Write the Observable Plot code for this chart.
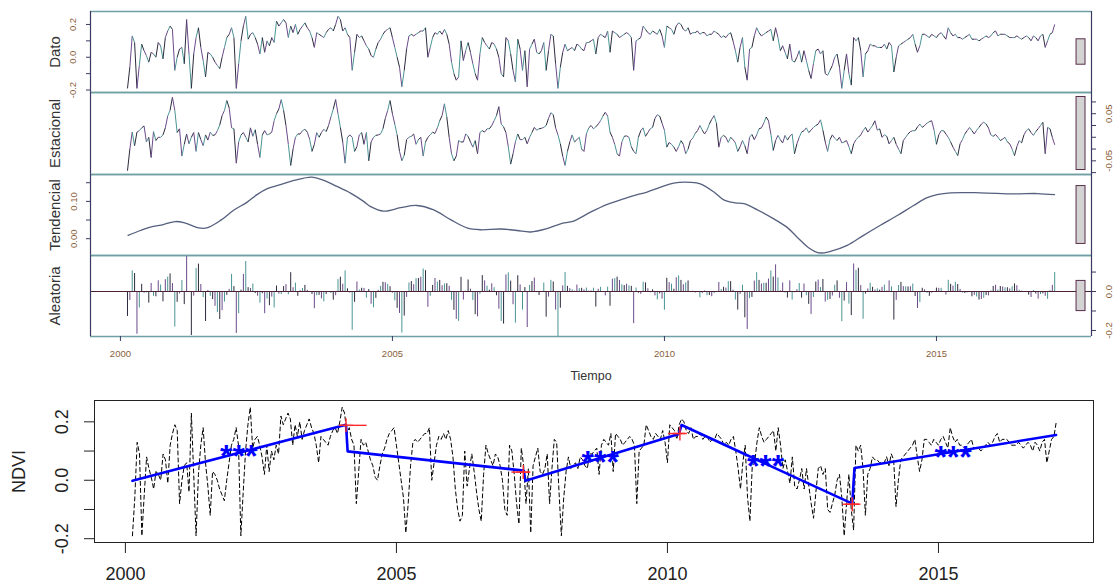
<!DOCTYPE html>
<html><head><meta charset="utf-8">
<script src="https://cdn.jsdelivr.net/npm/d3@7"></script>
<script src="https://cdn.jsdelivr.net/npm/@observablehq/plot@0.6"></script>
<style>
html,body{margin:0;padding:0;background:#fff;}
#chart{position:relative;width:1113px;height:584px;overflow:hidden;font-family:"Liberation Sans",Arial,sans-serif;}
#chart > div{position:absolute;left:0;}
#chart svg{overflow:visible;}
</style></head><body><div id="chart"></div>
<script>
// ---- time base (16-day NDVI composites, 23 per year) ----
const startTime = 2000.13;
const step = 1 / 23;

// ---- NDVI observations (Dato / dashed series) ----
const ndvi = [
  // 2000
  -0.19,-0.06,0.13,0.09,-0.19,-0.05,0.08,0.04,0.01,-0.03,0.03,0.02,0.0,0.09,0.07,-0.01,0.12,0.16,0.19,0.17,
  // 2001
  -0.08,0.0,0.05,0.06,-0.04,0.23,0.02,-0.19,0.02,0.12,0.18,0.06,-0.02,-0.12,0.03,0.02,0.0,-0.03,-0.05,-0.07,0.0,0.06,0.12,
  // 2002
  0.14,0.18,0.12,-0.19,-0.04,0.10,0.19,0.25,0.11,0.14,0.15,0.12,0.08,0.02,0.12,0.03,0.10,0.07,0.12,0.09,0.22,0.19,0.21,
  // 2003
  0.23,0.21,0.12,0.19,0.15,0.20,0.14,0.17,0.19,0.21,0.18,0.16,0.12,0.06,0.15,0.14,0.13,0.12,0.15,0.17,0.18,0.16,0.20,
  // 2004
  0.25,0.23,0.16,0.18,0.14,0.12,-0.08,0.03,0.14,0.12,0.13,0.10,0.07,0.05,0.01,0.0,0.05,0.09,0.11,0.14,0.16,0.17,0.18,
  // 2005
  0.12,0.06,0.0,-0.06,-0.18,-0.08,0.05,0.13,0.14,0.13,0.14,0.15,0.16,0.16,0.18,0.0,0.06,0.12,0.15,0.14,0.16,0.14,0.17,
  // 2006
  0.14,0.08,-0.03,-0.10,-0.14,-0.12,0.10,-0.02,0.04,0.09,0.03,-0.04,-0.10,-0.14,0.02,0.12,0.09,0.07,0.05,0.09,0.08,0.05,0.0,
  // 2007
  -0.10,-0.12,0.12,0.10,0.02,-0.08,-0.15,0.11,0.05,-0.08,0.04,-0.18,0.05,0.08,0.11,0.03,0.02,0.04,0.09,-0.08,0.04,0.14,0.13,
  // 2008
  -0.04,-0.19,-0.06,0.03,0.08,0.04,0.05,0.06,0.04,0.08,0.07,0.05,0.04,0.09,0.09,0.10,0.11,0.02,0.12,0.14,0.13,0.12,0.16,
  // 2009
  0.03,0.16,0.15,0.14,0.12,0.13,0.14,0.15,0.14,0.12,-0.08,0.10,0.11,0.12,0.19,0.17,0.15,0.14,0.16,0.15,0.14,0.17,0.13,
  // 2010
  0.06,0.19,0.18,0.17,0.14,0.19,0.21,0.20,0.17,0.16,0.18,0.14,0.15,0.15,0.16,0.14,0.15,0.15,0.13,0.14,0.14,0.16,0.15,
  // 2011
  0.14,0.12,0.13,0.12,0.14,0.15,0.10,0.04,-0.03,0.06,0.12,-0.06,-0.14,0.05,0.06,0.13,0.18,0.15,0.13,0.14,0.15,0.16,0.17,
  // 2012
  0.10,0.18,0.12,0.04,0.07,0.03,-0.01,0.08,-0.02,-0.03,0.0,0.04,-0.03,0.04,-0.02,-0.08,-0.13,-0.04,0.04,0.05,0.02,0.04,-0.10,
  // 2013
  -0.11,-0.08,-0.05,0.0,0.02,-0.06,-0.19,-0.08,0.02,-0.10,-0.17,0.12,0.10,0.12,0.04,-0.12,0.02,0.04,0.08,0.07,0.07,0.06,0.06,
  // 2014
  0.06,0.08,0.05,0.09,0.07,-0.09,0.0,0.07,0.08,0.09,0.10,0.11,0.12,0.14,0.08,0.03,0.07,0.14,0.14,0.13,0.12,0.14,0.13,
  // 2015
  0.12,0.14,0.15,0.13,0.11,0.18,0.15,0.13,0.14,0.12,0.12,0.11,0.12,0.13,0.14,0.11,0.11,0.11,0.10,0.11,0.12,0.13,0.12,
  // 2016
  0.13,0.15,0.16,0.13,0.14,0.14,0.14,0.13,0.12,0.12,0.12,0.13,0.12,0.11,0.12,0.13,0.12,0.10,0.13,0.12,0.10,0.13,0.14,
  // 2017
  0.06,0.10,0.14,0.15,0.20
];

// ---- Estacional (seasonal component) ----
const seasonal = [
  // 2000
  -0.071,-0.025,0.011,-0.018,0.011,0.014,0.020,0.024,-0.010,0.0,-0.043,0.012,-0.007,0.0,0.0,0.005,0.020,0.045,0.057,0.085,
  // 2001
  0.057,0.010,0.018,-0.040,-0.015,0.007,-0.014,0.0,0.010,-0.030,0.010,-0.005,-0.018,0.005,-0.006,0.011,0.004,0.005,0.014,0.026,0.046,0.057,0.078,
  // 2002
  0.062,0.020,0.018,-0.055,-0.010,0.005,0.010,0.0,-0.010,0.020,0.002,0.016,-0.015,-0.043,0.005,0.014,0.005,0.007,0.011,0.035,0.050,0.060,0.080,
  // 2003
  0.057,0.025,-0.015,-0.060,-0.025,0.0,0.007,0.007,0.014,0.017,0.011,-0.004,-0.030,-0.015,0.010,0.0,0.010,0.017,0.012,0.025,0.043,0.060,0.080,
  // 2004
  0.050,0.021,-0.010,-0.055,0.0,0.005,0.0,-0.030,-0.020,0.005,0.010,-0.015,0.010,-0.050,-0.010,0.0,0.004,0.005,0.007,0.018,0.040,0.057,0.078,
  // 2005
  0.050,0.028,0.005,-0.030,-0.050,-0.038,-0.005,0.0,0.002,0.007,-0.015,-0.005,0.0,-0.040,-0.010,0.0,0.005,0.011,0.008,0.020,0.035,0.046,0.071,
  // 2006
  0.043,0.0,-0.035,-0.050,-0.040,-0.007,-0.010,-0.010,0.007,0.002,-0.010,-0.021,-0.007,-0.035,0.010,0.014,0.011,0.018,0.018,0.025,0.035,0.046,0.065,
  // 2007
  0.028,0.022,0.010,-0.020,-0.057,-0.035,-0.010,0.007,-0.005,-0.005,0.0,-0.014,0.0,0.010,0.021,0.015,0.018,0.019,0.021,0.025,0.040,0.052,0.048,
  // 2008
  0.020,0.005,-0.014,-0.040,-0.060,-0.030,-0.010,0.005,-0.010,-0.005,0.0,-0.025,-0.030,0.007,0.020,0.025,0.018,0.022,0.028,0.035,0.045,0.053,0.045,
  // 2009
  0.011,0.0,-0.015,-0.035,-0.040,-0.010,0.002,0.003,0.0,-0.020,-0.030,-0.035,0.0,0.014,0.020,0.002,0.010,0.018,0.021,0.040,0.048,0.045,0.030,
  // 2010
  0.015,-0.021,-0.011,-0.015,-0.021,-0.030,-0.020,-0.007,-0.015,-0.035,-0.025,-0.007,-0.002,0.008,0.014,0.025,0.015,0.007,0.015,0.028,0.038,0.046,0.030,
  // 2011
  -0.021,0.0,0.004,0.0,-0.011,0.0,-0.005,-0.012,-0.030,-0.020,-0.007,-0.018,-0.035,0.0,0.006,-0.005,0.005,0.018,0.020,0.030,0.043,0.035,0.007,
  // 2012
  -0.028,-0.007,0.004,-0.005,-0.012,0.004,-0.006,0.002,0.007,-0.035,-0.014,0.0,0.011,0.014,0.020,0.010,0.015,0.021,0.025,0.028,0.037,0.015,-0.010,
  // 2013
  -0.030,-0.005,0.005,-0.002,-0.007,0.0,-0.012,-0.010,-0.007,-0.020,-0.035,-0.014,-0.005,0.0,0.005,0.014,0.021,0.011,0.018,0.025,0.035,0.015,0.018,
  // 2014
  0.0,0.005,0.002,-0.014,-0.007,0.0,-0.015,-0.025,-0.035,-0.007,0.0,0.007,0.012,0.014,0.014,0.022,0.028,0.021,0.025,0.030,0.033,0.035,0.015,
  // 2015
  -0.015,0.005,0.014,0.014,0.007,0.0,-0.010,-0.021,-0.030,-0.039,-0.014,-0.005,0.007,0.014,0.021,0.014,0.007,0.015,0.021,0.028,0.032,0.028,0.020,
  // 2016
  0.005,0.002,0.006,0.0,-0.007,-0.004,0.0,-0.010,-0.014,-0.025,-0.039,-0.020,-0.007,-0.012,0.005,0.014,0.018,0.010,0.004,0.012,0.018,0.025,0.032,
  // 2017
  -0.035,0.021,0.018,0.0,-0.016
];

// ---- Tendencial (trend component, read at knots) ----
const trendTime = [2000.14,2000.37,2000.55,2000.79,2001.01,2001.19,2001.44,2001.59,2001.84,2002.08,2002.33,2002.51,2002.70,2002.94,2003.19,2003.52,2003.74,2003.98,2004.23,2004.47,2004.60,2004.84,2005.15,2005.45,2005.76,2006.07,2006.37,2006.62,2006.99,2007.29,2007.54,2007.84,2008.09,2008.33,2008.64,2008.95,2009.25,2009.50,2009.68,2009.93,2010.17,2010.48,2010.66,2010.91,2011.09,2011.30,2011.46,2011.70,2012.01,2012.25,2012.44,2012.65,2012.84,2013.05,2013.36,2013.66,2013.97,2014.28,2014.58,2014.83,2015.01,2015.26,2015.81,2016.42,2016.85,2017.17];
const trendValue = [0.009,0.022,0.031,0.038,0.046,0.042,0.029,0.029,0.049,0.076,0.098,0.118,0.134,0.145,0.156,0.165,0.156,0.140,0.122,0.100,0.086,0.074,0.083,0.089,0.077,0.051,0.029,0.024,0.026,0.022,0.018,0.027,0.040,0.047,0.071,0.092,0.107,0.118,0.125,0.138,0.149,0.151,0.147,0.125,0.104,0.096,0.094,0.078,0.053,0.031,0.004,-0.024,-0.038,-0.034,-0.018,0.009,0.036,0.062,0.089,0.110,0.118,0.123,0.123,0.120,0.121,0.118];

// ---- BFAST piecewise trend (bottom plot) ----
const bfTime  = [2000.13, 2004.07, 2004.10, 2007.35, 2007.38, 2010.21, 2010.26, 2013.41, 2013.45, 2017.17];
const bfValue = [-0.002, 0.190, 0.099, 0.033, -0.002, 0.158, 0.189, -0.080, 0.042, 0.155];
// breakpoints and their confidence intervals
const bpTime  = [2004.07, 2007.34, 2010.23, 2013.41];
const bpValue = [0.188, 0.028, 0.160, -0.082];
const bpLow   = [2003.97, 2007.13, 2010.02, 2013.24];
const bpHigh  = [2004.46, 2007.47, 2010.33, 2013.57];
// significance markers
const starTime  = [2002.09, 2008.76, 2011.81, 2015.27];
const starValue = [0.108, 0.089, 0.074, 0.103];
const starText  = ["***", "***", "***", "***"];

// ---- axes ----
const yearTicks = [2000, 2005, 2010, 2015];
const panelNames = ["Dato", "Estacional", "Tendencial", "Aleatoria"];
const datoTicks = [-0.2, -0.1, 0, 0.1, 0.2], datoLabels = [-0.2, 0, 0.2];
const estTicks = [-0.075, -0.05, -0.025, 0, 0.025, 0.05, 0.075], estLabels = [-0.05, 0.05];
const tenTicks = [0, 0.05, 0.1, 0.15], tenLabels = [0, 0.1];
const aleTicks = [-0.2, -0.1, 0, 0.1], aleLabels = [-0.2, 0];
const ndviTicks = [-0.2, -0.1, 0, 0.1, 0.2], ndviLabels = [-0.2, 0, 0.2];
const rangeBarSize = 0.155;

// ---- derived rows ----
function trendAt(t) {
  if (t <= trendTime[0]) return trendValue[0];
  for (let j = 0; j < trendTime.length - 1; j++) {
    if (t <= trendTime[j + 1]) {
      const f = (t - trendTime[j]) / (trendTime[j + 1] - trendTime[j]);
      return trendValue[j] + f * (trendValue[j + 1] - trendValue[j]);
    }
  }
  return trendValue[trendValue.length - 1];
}
const lineColors = ["#2b2b3d", "#6b4a8a", "#4a9494"];
const rows = ndvi.map((v, i) => {
  const t = startTime + i * step;
  return {t, v, s: seasonal[i], r: v - seasonal[i] - trendAt(t), c: lineColors[i % 3]};
});
const segs = d3.pairs(rows).map(([a, b]) => ({a, b}));
const trendRows = trendTime.map((t, i) => ({t, v: trendValue[i]}));
const bfRows = bfTime.map((t, i) => ({t, v: bfValue[i]}));
const bpRows = bpTime.map((t, i) => ({t, v: bpValue[i], lo: bpLow[i], hi: bpHigh[i]}));
const starRows = starTime.map((t, i) => ({t, v: starValue[i], text: starText[i]}));

const font = "Liberation Sans, Arial, Helvetica, sans-serif";
const sepColor = "#6f9fa2", borderColor = "#3a3a62", tickLabColor = "#8a6038";
const xDomainTop = [1999.45, 2017.85];
const xDomainBottom = [1999.43, 2017.86];
const chart = document.getElementById("chart");

function place(svgTop, node) {
  const d = document.createElement("div");
  d.style.top = svgTop + "px";
  d.appendChild(node);
  chart.appendChild(d);
}

function topPanel({top, bottom, svgTop, svgBottom, yDomain, name, side, ticks, labels, digits, labDx, marks, extra = []}) {
  const mid = (yDomain[0] + yDomain[1]) / 2;
  const node = Plot.plot({
    width: 1113, height: svgBottom - svgTop,
    marginLeft: 90, marginRight: 22, marginTop: top - svgTop, marginBottom: svgBottom - bottom,
    x: {domain: xDomainTop, axis: null},
    y: {domain: yDomain},
    color: {type: "identity"},
    style: {background: "transparent", overflow: "visible", fontFamily: font},
    marks: [
      ...marks,
      Plot.rect([0], {x1: 2017.575, x2: 2017.74, y1: mid - rangeBarSize / 2, y2: mid + rangeBarSize / 2,
        fill: "#d3d3d3", stroke: "#5a2d4a", strokeWidth: 1}),
      Plot.ruleY(yDomain, {stroke: sepColor, strokeWidth: 1.6}),
      Plot.ruleX(xDomainTop, {stroke: borderColor, strokeWidth: 1.2}),
      Plot.axisY(ticks, {anchor: side, tickSize: 4, tickFormat: () => "", label: null, stroke: borderColor}),
      Plot.text(labels, {y: d => d, text: d => d.toFixed(digits), frameAnchor: side, dx: labDx, rotate: -90,
        textAnchor: "middle", lineAnchor: "middle", fontSize: 9.5, fill: tickLabColor}),
      Plot.text([name], {frameAnchor: "left", dx: -35, rotate: -90, textAnchor: "middle", lineAnchor: "middle",
        fontSize: 15, fill: "#333"}),
      ...extra
    ]
  });
  place(svgTop, node);
}

// Dato
topPanel({top: 11, bottom: 92, svgTop: 0, svgBottom: 100, yDomain: [-0.215, 0.279], name: panelNames[0],
  side: "left", ticks: datoTicks, labels: datoLabels, digits: 1, labDx: -18,
  marks: [Plot.link(segs, {x1: d => d.a.t, y1: d => d.a.v, x2: d => d.b.t, y2: d => d.b.v, stroke: d => d.a.c, strokeWidth: 1})]});

// Estacional
topPanel({top: 92, bottom: 174, svgTop: 86, svgBottom: 180, yDomain: [-0.079, 0.095], name: panelNames[1],
  side: "right", ticks: estTicks, labels: estLabels, digits: 2, labDx: 17,
  marks: [Plot.link(segs, {x1: d => d.a.t, y1: d => d.a.s, x2: d => d.b.t, y2: d => d.b.s, stroke: d => d.a.c, strokeWidth: 1})]});

// Tendencial
topPanel({top: 174, bottom: 255, svgTop: 168, svgBottom: 261, yDomain: [-0.045, 0.172], name: panelNames[2],
  side: "left", ticks: tenTicks, labels: tenLabels, digits: 2, labDx: -17,
  marks: [Plot.line(trendRows, {x: "t", y: "v", curve: "catmull-rom", stroke: "#56607e", strokeWidth: 1.3})]});

// Aleatoria
topPanel({top: 255, bottom: 336, svgTop: 249, svgBottom: 390, yDomain: [-0.231, 0.185], name: panelNames[3],
  side: "right", ticks: aleTicks, labels: aleLabels, digits: 1, labDx: 17,
  marks: [
    Plot.ruleX(rows, {x: "t", y1: 0, y2: "r", stroke: "c", strokeWidth: 1}),
    Plot.ruleY([0], {stroke: "#4a2035", strokeWidth: 1.2})
  ],
  extra: [
    Plot.axisX(yearTicks, {anchor: "bottom", tickSize: 5, tickFormat: () => "", label: null, stroke: borderColor}),
    Plot.text(yearTicks, {x: d => d, text: d => String(d), frameAnchor: "bottom", dy: 17, lineAnchor: "middle",
      fontSize: 9.5, fill: tickLabColor}),
    Plot.text(["Tiempo"], {frameAnchor: "bottom", dy: 39, lineAnchor: "middle", fontSize: 12.5, fill: "#333"})
  ]});

// Bottom BFAST plot
const bottom = Plot.plot({
  width: 1113, height: 192,
  marginLeft: 94, marginRight: 20, marginTop: 8, marginBottom: 42,
  x: {domain: xDomainBottom},
  y: {domain: [-0.213, 0.273]},
  style: {background: "transparent", overflow: "visible", fontFamily: font},
  marks: [
    Plot.line(rows, {x: "t", y: "v", stroke: "#000", strokeWidth: 1, strokeDasharray: "4,3"}),
    Plot.line(bfRows, {x: "t", y: "v", stroke: "#0000ff", strokeWidth: 2.6}),
    Plot.ruleY(bpRows, {y: "v", x1: "lo", x2: "hi", stroke: "#ff2a2a", strokeWidth: 1.4}),
    Plot.dot(bpRows, {x: "t", y: "v", symbol: "plus", r: 4.6, stroke: "#ff2a2a", strokeWidth: 1.4}),
    Plot.text(starRows, {x: "t", y: "v", text: "text", fill: "#0000ff", fontSize: 32, fontWeight: "bold", dy: 8}),
    Plot.frame({stroke: "#222", strokeWidth: 1}),
    Plot.axisY(ndviTicks, {anchor: "left", tickSize: 10, tickFormat: () => "", label: null, stroke: "#222"}),
    Plot.axisX(yearTicks, {anchor: "bottom", tickSize: 11, tickFormat: () => "", label: null, stroke: "#222"}),
    Plot.text(ndviLabels, {y: d => d, text: d => d.toFixed(1), frameAnchor: "left", dx: -32, rotate: -90,
      textAnchor: "middle", lineAnchor: "middle", fontSize: 18, fill: "#222"}),
    Plot.text(yearTicks, {x: d => d, text: d => String(d), frameAnchor: "bottom", dy: 32, lineAnchor: "middle",
      fontSize: 18, fill: "#222"}),
    Plot.text(["NDVI"], {frameAnchor: "left", dx: -75, rotate: -90, textAnchor: "middle", lineAnchor: "middle",
      fontSize: 18, fill: "#222"})
  ]
});
place(392, bottom);
</script>
</body></html>
